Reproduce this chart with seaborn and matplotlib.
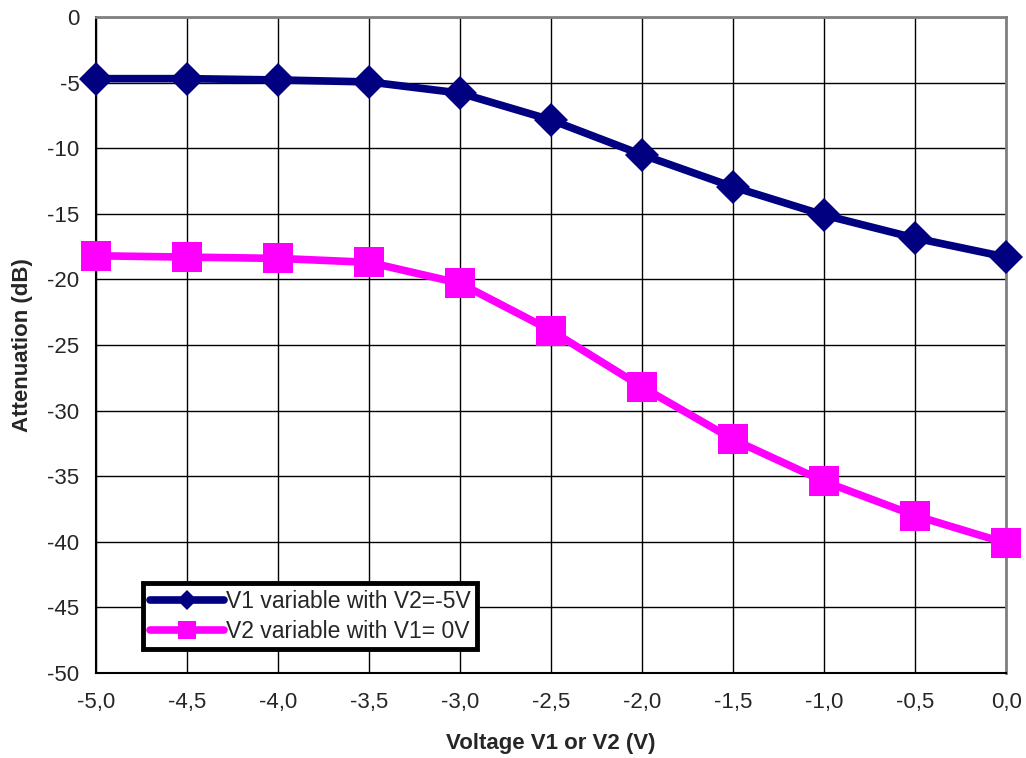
import numpy as np
import pandas as pd
import seaborn as sns
from matplotlib import pyplot as plt
from matplotlib.ticker import FuncFormatter

voltage = [-5.0, -4.5, -4.0, -3.5, -3.0, -2.5, -2.0, -1.5, -1.0, -0.5, 0.0]
att_v1 = [-4.7, -4.7, -4.8, -4.95, -5.8, -7.85, -10.5, -12.95, -15.1, -16.85, -18.3]
att_v2 = [-18.2, -18.3, -18.4, -18.7, -20.3, -23.9, -28.2, -32.2, -35.4, -38.0, -40.1]
label_v1 = "V1 variable with V2=-5V"
label_v2 = "V2 variable with V1= 0V"

sns.set_style("white")
plt.rcParams["font.family"] = ["Liberation Sans", "DejaVu Sans"]

df = pd.DataFrame({"voltage": voltage, label_v1: att_v1, label_v2: att_v2})
long = df.melt(id_vars="voltage", var_name="series", value_name="att")

fig = plt.figure(figsize=(10.26, 7.58), dpi=100)
ax = fig.add_axes([0.0936, 0.1121, 0.887, 0.8655])

for name, col, mk, ms in [(label_v1, "#000080", "D", 17), (label_v2, "#FF00FF", "s", 22)]:
    sns.lineplot(
        data=long[long.series == name], x="voltage", y="att", ax=ax,
        color=col, marker=mk, markersize=ms, linewidth=5.5, label=name,
        markeredgewidth=0, zorder=3, clip_on=False,
    )

ax.set_xlim(-5, 0)
ax.set_ylim(-50, 0)
ax.set_xticks(np.arange(-5, 0.01, 0.5))
ax.set_yticks(np.arange(-50, 0.1, 5))
ax.xaxis.set_major_formatter(FuncFormatter(lambda v, p: f"{v:.1f}".replace(".", ",")))
ax.yaxis.set_major_formatter(FuncFormatter(lambda v, p: f"{v:.0f}"))
ax.grid(True, color="black", linewidth=1)
ax.tick_params(axis="both", labelsize=16, length=0)
ax.tick_params(axis="x", pad=14)
ax.tick_params(axis="y", pad=12)

for s in ["top", "right"]:
    ax.spines[s].set_color("#808080")
    ax.spines[s].set_linewidth(2)
for s in ["left", "bottom"]:
    ax.spines[s].set_color("black")
    ax.spines[s].set_linewidth(1.5)

ax.set_xlabel("Voltage V1 or V2 (V)", fontsize=16, fontweight="bold", labelpad=14)
ax.set_ylabel("Attenuation (dB)", fontsize=16, fontweight="bold", labelpad=10)

leg = ax.legend(
    loc="lower left", bbox_to_anchor=(0.052, 0.036), fontsize=16.5,
    frameon=True, fancybox=False, edgecolor="black", framealpha=1,
    handlelength=3.2, handletextpad=0.1, borderpad=0.3, labelspacing=0.3,
    borderaxespad=0, markerscale=0.6,
)
leg.get_frame().set_linewidth(3.5)

fig.savefig("out.png", dpi=100)
